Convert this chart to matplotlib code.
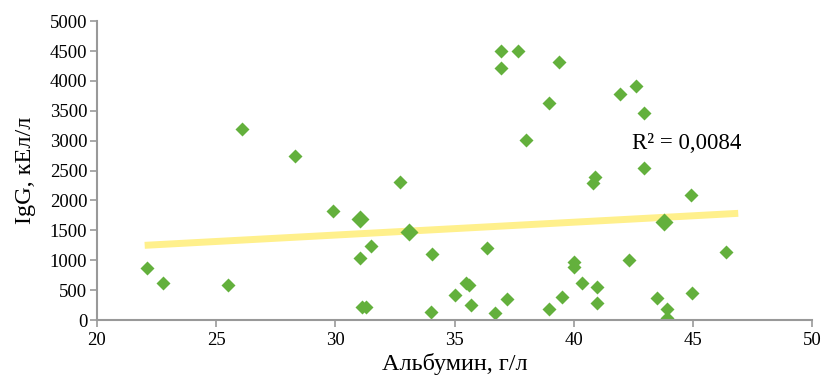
import numpy as np
import matplotlib.pyplot as plt

plt.rcParams['font.family'] = ['Liberation Serif', 'DejaVu Serif']

# данные: альбумин (г/л) и IgG (кЕл/л)
albumin = [22.1, 22.75, 25.5, 26.1, 28.3, 29.9, 31.05, 31.5, 31.1, 31.3,
           32.7, 34.05, 34.0, 35.0, 35.5, 35.6, 35.7, 36.35, 36.7, 36.95,
           36.95, 37.2, 37.65, 38.0, 38.95, 38.95, 39.4, 39.5, 40.0, 40.0,
           40.35, 40.98, 40.98, 40.8, 40.9, 41.95, 42.6, 42.3, 42.95, 42.95,
           43.5, 43.9, 43.9, 44.9, 44.95, 46.4]
igg = [870, 620, 585, 3190, 2740, 1820, 1040, 1240, 220, 220,
       2310, 1100, 130, 420, 620, 590, 250, 1200, 120, 4500,
       4220, 350, 4500, 3010, 3630, 180, 4310, 380, 970, 890,
       620, 550, 290, 2290, 2390, 3780, 3910, 1000, 3460, 2540,
       370, 180, 30, 2090, 450, 1140]

# крупные маркеры
albumin_big = [31.05, 33.1, 43.8]
igg_big = [1690, 1470, 1640]

# линия тренда
trend_x = [22.0, 46.9]
trend_y = [1250, 1785]
r2_text = 'R\u00b2 = 0,0084'

xticks = [20, 25, 30, 35, 40, 45, 50]
yticks = list(range(0, 5001, 500))

green = '#63b03c'
fig = plt.figure(figsize=(8.22, 3.77), dpi=100)
ax = fig.add_axes([0.118, 0.151, 0.870, 0.793])

ax.plot(trend_x, trend_y, color='#fff08c', lw=5, solid_capstyle='butt', zorder=1)
ax.plot(albumin, igg, 'D', color=green, ms=7.3, mec='none', zorder=2)
ax.plot(albumin_big, igg_big, 'D', color=green, ms=9.3, mec='none', zorder=3)

ax.text(42.45, 2950, r2_text, fontsize=16.5, va='center')

ax.set_xlim(20, 50)
ax.set_ylim(0, 5000)
ax.set_xticks(xticks)
ax.set_yticks(yticks)
ax.tick_params(labelsize=13.5, colors='#999999', labelcolor='black', length=5, width=1.2)
ax.tick_params(axis='y', pad=2)
for s in ['top', 'right']:
    ax.spines[s].set_visible(False)
for s in ['left', 'bottom']:
    ax.spines[s].set_color('#999999')
    ax.spines[s].set_linewidth(1.5)

ax.set_xlabel('Альбумин, г/л', fontsize=17.5, labelpad=3)
ax.set_ylabel('IgG, кЕл/л', fontsize=17.5, labelpad=10)

fig.savefig('out.png', dpi=100)
